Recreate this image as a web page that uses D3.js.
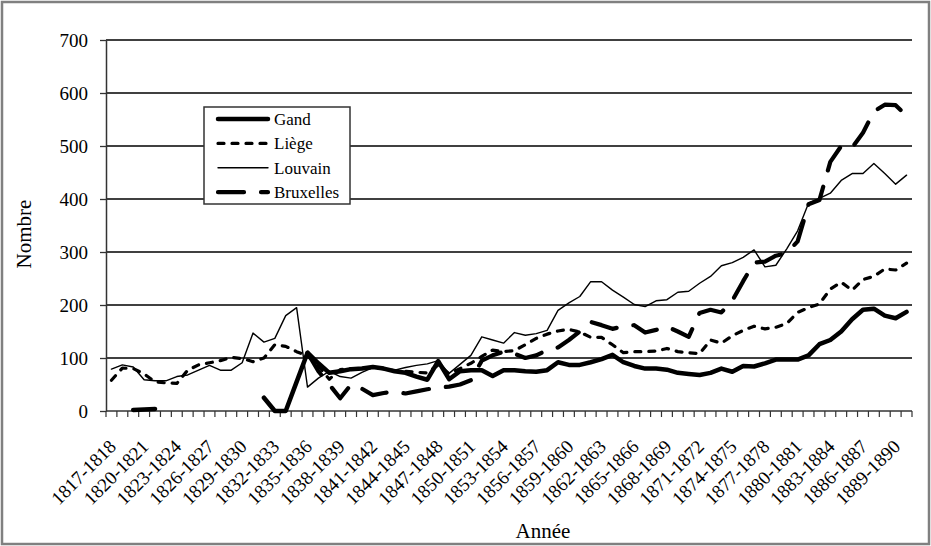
<!DOCTYPE html>
<html>
<head>
<meta charset="utf-8">
<script src="https://cdnjs.cloudflare.com/ajax/libs/d3/7.8.5/d3.min.js"></script>
<style>
body{margin:0;background:#fff;}
svg text{font-family:"Liberation Serif",serif !important;fill:#000;}
</style>
</head>
<body>
<script>
var annees=["1817-1818","1818-1819","1819-1820","1820-1821","1821-1822","1822-1823","1823-1824","1824-1825","1825-1826","1826-1827",
  "1827-1828","1828-1829","1829-1830","1830-1831","1831-1832","1832-1833","1833-1834","1834-1835","1835-1836","1836-1837",
  "1837-1838","1838-1839","1839-1840","1840-1841","1841-1842","1842-1843","1843-1844","1844-1845","1845-1846","1846-1847",
  "1847-1848","1848-1849","1849-1850","1850-1851","1851-1852","1852-1853","1853-1854","1854-1855","1855-1856","1856-1857",
  "1857-1858","1858-1859","1859-1860","1860-1861","1861-1862","1862-1863","1863-1864","1864-1865","1865-1866","1866-1867",
  "1867-1868","1868-1869","1869-1870","1870-1871","1871-1872","1872-1873","1873-1874","1874-1875","1875-1876","1876-1877",
  "1877-1878","1878-1879","1879-1880","1880-1881","1881-1882","1882-1883","1883-1884","1884-1885","1885-1886","1886-1887",
  "1887-1888","1888-1889","1889-1890","1890-1891"]

var gand=[null,null,2,3,4,null,null,null,null,null,
  null,null,null,null,25,0,0,55,110,90,
  72,75,79,80,83,80,75,72,65,59,
  94,60,75,77,77,66,77,77,75,74,
  77,92,87,87,92,98,106,92,85,80,
  80,78,72,70,68,72,80,74,85,84,
  90,97,97,97,105,126,134,150,173,191,
  193,180,175,187]

var liege=[58,81,80,70,55,53,52,77,87,91,
  95,101,99,93,100,125,122,112,104,85,
  60,78,80,80,82,80,76,75,73,72,
  87,70,80,90,103,115,112,114,125,137,
  145,151,154,149,139,139,125,110,112,112,
  113,118,112,110,108,134,128,142,152,160,
  155,158,165,186,195,202,230,243,228,248,
  254,268,266,279]

var louvain=[79,87,83,59,57,57,65,68,77,86,
  77,77,91,147,130,137,180,195,45,62,
  75,65,62,73,82,78,77,82,86,89,
  95,71,88,105,140,134,128,148,143,146,
  152,190,204,216,244,244,228,215,201,197,
  208,210,224,226,241,254,274,280,290,304,
  272,275,306,340,392,401,411,435,448,448,
  467,448,428,445]

var bruxelles=[null,null,null,null,null,null,null,null,null,null,
  null,null,null,null,null,null,null,null,110,75,
  50,24,50,42,30,34,36,33,37,41,
  44,46,50,58,95,105,112,108,100,105,
  115,120,134,150,168,162,155,160,162,148,
  153,159,150,140,185,191,186,208,245,280,
  282,293,298,320,390,398,470,500,497,525,
  565,578,577,557]

var yTicks=[0,100,200,300,400,500,600,700]
var noms=["Gand","Liège","Louvain","Bruxelles"]

var drawChart=function()
{
  var screen={width:931,height:546}
  var plot={left:106,right:912,top:40,bottom:411}
  var serif="'Liberation Serif', serif"
  var series=[
    {name:noms[0],values:gand,width:4.5,dash:null},
    {name:noms[1],values:liege,width:3.2,dash:"6,8"},
    {name:noms[2],values:louvain,width:1.4,dash:null},
    {name:noms[3],values:bruxelles,width:4.2,dash:"26,17"}]

  var xScale=d3.scaleBand()
     .domain(annees)
     .range([plot.left,plot.right])
  var yScale=d3.scaleLinear()
     .domain([0,700])
     .range([plot.bottom,plot.top])
  var xc=function(d){return xScale(d)+xScale.bandwidth()/2;}

  var svg=d3.select("body").append("svg")
            .attr("width",screen.width)
            .attr("height",screen.height)
            .attr("font-family",serif)

  svg.append("rect")
     .attr("x",2).attr("y",2)
     .attr("width",screen.width-4).attr("height",screen.height-4)
     .attr("fill","#fff").attr("stroke","#808080").attr("stroke-width",2.5)

  // gridlines
  svg.append("g").selectAll("line")
     .data(yTicks.filter(function(d){return d>0;}))
     .enter().append("line")
     .attr("x1",plot.left).attr("x2",plot.right)
     .attr("y1",function(d){return yScale(d);})
     .attr("y2",function(d){return yScale(d);})
     .attr("stroke","#000").attr("stroke-width",1.3)

  var yAxis=svg.append("g")
     .attr("transform","translate("+plot.left+",0)")
     .call(d3.axisLeft(yScale).tickValues(yTicks).tickSize(6).tickPadding(12).tickSizeOuter(0))
  yAxis.attr("font-family",serif).attr("font-size",null)
  yAxis.select(".domain").attr("stroke","#333").attr("stroke-width",1.5)
  yAxis.selectAll(".tick line").attr("stroke","#333").attr("stroke-width",1.3)
  yAxis.selectAll("text").style("font-size","19px").style("font-family",serif)

  // x axis, ticks between the categories
  var xAxis=svg.append("g")
  xAxis.append("line")
       .attr("x1",plot.left).attr("x2",plot.right)
       .attr("y1",plot.bottom).attr("y2",plot.bottom)
       .attr("stroke","#333").attr("stroke-width",1.5)
  xAxis.selectAll(".tk")
       .data(annees.concat(["fin"]))
       .enter().append("line")
       .attr("x1",function(d,i){return i<annees.length?xScale(d):plot.right;})
       .attr("x2",function(d,i){return i<annees.length?xScale(d):plot.right;})
       .attr("y1",plot.bottom).attr("y2",plot.bottom+6)
       .attr("stroke","#333").attr("stroke-width",1.2)
  xAxis.selectAll(".lab")
       .data(annees.filter(function(d,i){return i%3==0;}))
       .enter().append("text")
       .attr("transform",function(d){return "translate("+(xc(d)+1)+","+(plot.bottom+32)+") rotate(-45)";})
       .attr("text-anchor","end")
       .attr("dy","0.35em")
       .style("font-size","19px")
       .style("font-family",serif)
       .text(function(d){return d;})

  var line=d3.line()
     .defined(function(d){return d.v!=null;})
     .x(function(d){return xc(d.a);})
     .y(function(d){return yScale(d.v);})

  svg.append("g").selectAll("path")
     .data(series)
     .enter().append("path")
     .attr("d",function(s){return line(s.values.map(function(v,i){return {a:annees[i],v:v};}));})
     .attr("fill","none")
     .attr("stroke","#000")
     .attr("stroke-width",function(s){return s.width;})
     .attr("stroke-dasharray",function(s){return s.dash;})
     .attr("stroke-linecap","round")
     .attr("stroke-linejoin","round")

  // legend
  var legend=svg.append("g").attr("transform","translate(204,107)")
  legend.append("rect")
        .attr("width",146).attr("height",97)
        .attr("fill","#fff").attr("stroke","#333").attr("stroke-width",1.5)
  var rows=legend.selectAll(".row")
        .data(series)
        .enter().append("g")
        .attr("transform",function(d,i){return "translate(0,"+(12+i*24.4)+")";})
  rows.append("line")
      .attr("x1",14).attr("x2",64).attr("y1",0).attr("y2",0)
      .attr("stroke","#000")
      .attr("stroke-width",function(s){return s.width;})
      .attr("stroke-dasharray",function(s){return s.dash;})
      .attr("stroke-linecap","round")
  rows.append("text")
      .attr("x",70).attr("dy","0.35em")
      .style("font-size","17px")
      .style("font-family",serif)
      .text(function(s){return s.name;})

  svg.append("text")
     .attr("x",543).attr("y",538)
     .attr("text-anchor","middle")
     .style("font-size","21px")
     .style("font-family",serif)
     .text("Année")
  svg.append("text")
     .attr("transform","translate(31,234) rotate(-90)")
     .attr("text-anchor","middle")
     .style("font-size","21px")
     .style("font-family",serif)
     .text("Nombre")
}

drawChart()
</script>
</body>
</html>
